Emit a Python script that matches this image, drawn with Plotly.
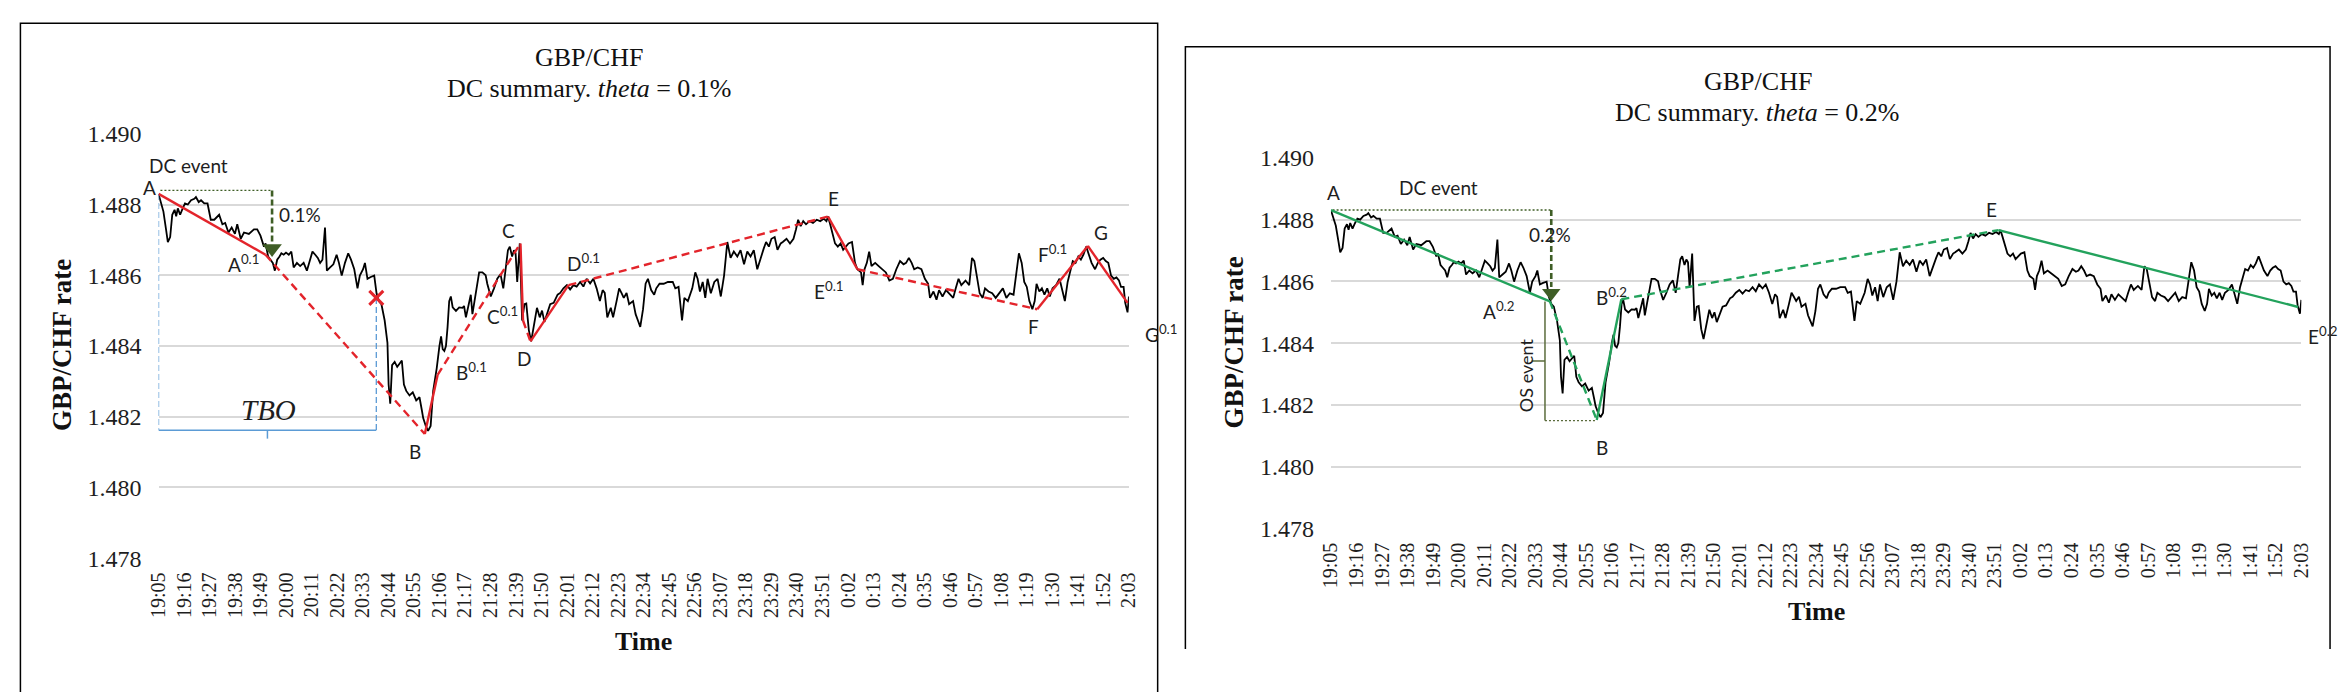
import plotly.graph_objects as go

# ---- TIME AXIS (category labels, one every 11 minutes) ---- #
tick_labels = ["19:05", "19:16", "19:27", "19:38", "19:49", "20:00", "20:11", "20:22",
               "20:33", "20:44", "20:55", "21:06", "21:17", "21:28", "21:39", "21:50",
               "22:01", "22:12", "22:23", "22:34", "22:45", "22:56", "23:07", "23:18",
               "23:29", "23:40", "23:51", "0:02", "0:13", "0:24", "0:35", "0:46",
               "0:57", "1:08", "1:19", "1:30", "1:41", "1:52", "2:03"]
step_min = 11

# ---- GBP/CHF RATE (minutes after 19:05) ---- #
minutes = [0.0, 1.1, 2.1, 3.3, 4.0, 5.0, 5.9, 6.9, 7.6, 8.3, 9.3, 10.4, 11.4, 12.6, 14.0, 15.4,
           16.1, 17.3, 18.3, 19.7, 21.1, 22.5, 24.0, 26.1, 27.5, 28.7, 30.1, 31.5, 32.9, 33.9,
           35.4, 36.8, 38.9, 41.1, 42.5, 43.9, 45.4, 46.1, 47.2, 48.2, 49.2, 50.1, 51.1, 52.1,
           52.9, 53.9, 54.9, 56.1, 57.2, 58.2, 59.6, 61.0, 62.5, 63.9, 65.3, 66.3, 67.5, 68.6,
           69.6, 70.6, 71.7, 72.5, 73.9, 75.3, 76.7, 77.7, 78.9, 80.3, 81.7, 82.9, 84.3, 85.7,
           86.7, 88.1, 88.9, 90.0, 91.4, 92.9, 93.9, 94.9, 96.0, 97.4, 98.6, 99.1, 99.8, 100.6,
           101.7, 102.8, 103.8, 104.8, 105.7, 106.7, 108.1, 109.5, 111.0, 112.4, 113.4, 114.0,
           115.1, 116.1, 117.2, 118.3, 119.8, 120.2, 121.0, 121.7, 122.4, 123.1, 123.8, 124.5,
           125.2, 125.9, 126.7, 128.1, 129.5, 130.9, 131.6, 132.4, 133.8, 134.5, 135.2, 136.6,
           138.1, 139.5, 140.9, 141.6, 143.1, 144.5, 145.9, 147.3, 148.5, 149.5, 150.5, 151.3,
           152.3, 153.1, 153.8, 154.5, 155.6, 156.6, 157.6, 158.4, 159.5, 160.5, 161.6, 163.0,
           164.2, 165.2, 166.2, 167.4, 168.7, 170.2, 171.9, 173.0, 174.4, 175.9, 177.3, 178.7,
           180.1, 181.6, 183.0, 184.4, 185.9, 187.3, 188.7, 190.1, 191.3, 192.2, 193.3, 194.8,
           195.8, 197.3, 198.4, 199.4, 200.4, 201.6, 202.7, 204.4, 205.5, 206.5, 207.5, 208.7,
           209.8, 210.8, 212.2, 213.5, 214.4, 215.8, 217.6, 219.4, 221.5, 222.6, 224.0, 225.5,
           226.5, 228.0, 228.9, 229.9, 231.2, 232.2, 233.2, 234.4, 235.5, 236.5, 237.9, 239.4,
           240.8, 242.2, 243.6, 245.0, 246.4, 247.8, 249.3, 250.7, 252.2, 253.6, 255.0, 256.4,
           257.9, 259.3, 260.7, 261.7, 262.9, 264.0, 265.4, 266.6, 268.0, 268.9, 270.5, 272.0,
           273.5, 274.6, 275.5, 276.6, 277.7, 278.9, 280.4, 281.9, 283.5, 285.0, 286.5, 287.7,
           288.4, 289.3, 290.3, 291.4, 292.6, 293.8, 294.9, 296.0, 297.2, 298.7, 300.0, 301.0,
           302.6, 303.3, 304.1, 305.1, 306.1, 307.1, 308.7, 310.2, 311.7, 313.3, 314.8, 316.3,
           317.8, 319.4, 320.9, 322.0, 323.2, 324.4, 325.5, 327.0, 328.6, 330.1, 331.5, 332.3,
           333.8, 335.1, 336.2, 337.7, 339.2, 340.8, 342.3, 343.4, 344.6, 345.8, 347.6, 349.2,
           350.4, 351.4, 352.5, 353.7, 355.0, 356.0, 357.5, 359.1, 360.6, 362.1, 363.7, 365.2,
           366.7, 368.3, 369.3, 370.6, 371.8, 372.9, 374.0, 375.1, 376.4, 377.4, 378.2, 379.4,
           380.5, 381.6, 382.8, 383.9, 385.1, 386.6, 388.1, 389.2, 390.4, 391.6, 392.7, 393.8,
           395.0, 396.2, 397.3, 398.4, 399.6, 400.8, 401.9, 403.4, 404.6, 405.7, 406.9, 408.0,
           409.1, 410.3, 411.5, 412.6, 413.7, 414.6, 415.7, 416.4, 417.4, 418.0]
rate = [1.48830, 1.48807, 1.48780, 1.48726, 1.48694, 1.48708, 1.48771, 1.48785, 1.48767, 1.48789,
        1.48771, 1.48789, 1.48803, 1.48800, 1.48812, 1.48816, 1.48821, 1.48807, 1.48812, 1.48803,
        1.48803, 1.48757, 1.48757, 1.48771, 1.48744, 1.48748, 1.48721, 1.48735, 1.48717, 1.48744,
        1.48703, 1.48721, 1.48717, 1.48730, 1.48730, 1.48712, 1.48681, 1.48690, 1.48653, 1.48644,
        1.48635, 1.48613, 1.48644, 1.48653, 1.48662, 1.48658, 1.48664, 1.48658, 1.48667, 1.48622,
        1.48635, 1.48626, 1.48635, 1.48613, 1.48644, 1.48667, 1.48658, 1.48649, 1.48635, 1.48644,
        1.48735, 1.48613, 1.48622, 1.48631, 1.48658, 1.48635, 1.48599, 1.48635, 1.48662, 1.48644,
        1.48617, 1.48563, 1.48599, 1.48617, 1.48635, 1.48590, 1.48595, 1.48599, 1.48549, 1.48527,
        1.48518, 1.48472, 1.48409, 1.48291, 1.48237, 1.48346, 1.48355, 1.48341, 1.48350, 1.48359,
        1.48291, 1.48273, 1.48260, 1.48269, 1.48246, 1.48255, 1.48219, 1.48196, 1.48174, 1.48160,
        1.48174, 1.48273, 1.48336, 1.48364, 1.48400, 1.48427, 1.48391, 1.48386, 1.48400, 1.48454,
        1.48527, 1.48540, 1.48509, 1.48499, 1.48509, 1.48508, 1.48513, 1.48481, 1.48527, 1.48545,
        1.48490, 1.48545, 1.48608, 1.48608, 1.48600, 1.48576, 1.48540, 1.48563, 1.48590, 1.48603,
        1.48563, 1.48617, 1.48671, 1.48681, 1.48653, 1.48671, 1.48662, 1.48581, 1.48690, 1.48472,
        1.48518, 1.48520, 1.48445, 1.48413, 1.48454, 1.48508, 1.48481, 1.48500, 1.48468, 1.48490,
        1.48518, 1.48522, 1.48545, 1.48550, 1.48563, 1.48572, 1.48560, 1.48572, 1.48568, 1.48581,
        1.48568, 1.48590, 1.48577, 1.48590, 1.48563, 1.48527, 1.48558, 1.48550, 1.48481, 1.48508,
        1.48481, 1.48527, 1.48563, 1.48550, 1.48536, 1.48550, 1.48518, 1.48527, 1.48490, 1.48472,
        1.48454, 1.48504, 1.48576, 1.48590, 1.48558, 1.48545, 1.48563, 1.48576, 1.48576, 1.48581,
        1.48581, 1.48563, 1.48567, 1.48472, 1.48536, 1.48527, 1.48545, 1.48563, 1.48608, 1.48590,
        1.48554, 1.48581, 1.48536, 1.48590, 1.48549, 1.48581, 1.48590, 1.48540, 1.48599, 1.48694,
        1.48649, 1.48667, 1.48653, 1.48671, 1.48631, 1.48667, 1.48653, 1.48671, 1.48617, 1.48649,
        1.48676, 1.48694, 1.48681, 1.48703, 1.48708, 1.48672, 1.48690, 1.48694, 1.48703, 1.48690,
        1.48703, 1.48730, 1.48757, 1.48739, 1.48753, 1.48744, 1.48753, 1.48748, 1.48757, 1.48753,
        1.48760, 1.48753, 1.48766, 1.48744, 1.48717, 1.48690, 1.48681, 1.48690, 1.48672, 1.48681,
        1.48690, 1.48694, 1.48635, 1.48617, 1.48608, 1.48572, 1.48617, 1.48635, 1.48667, 1.48626,
        1.48635, 1.48626, 1.48617, 1.48608, 1.48585, 1.48590, 1.48617, 1.48640, 1.48631, 1.48635,
        1.48649, 1.48635, 1.48617, 1.48622, 1.48617, 1.48590, 1.48576, 1.48536, 1.48554, 1.48531,
        1.48558, 1.48540, 1.48558, 1.48545, 1.48536, 1.48563, 1.48590, 1.48572, 1.48585, 1.48572,
        1.48649, 1.48640, 1.48599, 1.48549, 1.48536, 1.48563, 1.48554, 1.48549, 1.48536, 1.48549,
        1.48563, 1.48536, 1.48549, 1.48545, 1.48599, 1.48662, 1.48635, 1.48581, 1.48567, 1.48527,
        1.48504, 1.48527, 1.48576, 1.48554, 1.48563, 1.48545, 1.48563, 1.48540, 1.48563, 1.48572,
        1.48590, 1.48563, 1.48527, 1.48581, 1.48608, 1.48640, 1.48635, 1.48653, 1.48644, 1.48658,
        1.48681, 1.48653, 1.48635, 1.48617, 1.48635, 1.48644, 1.48649, 1.48640, 1.48635, 1.48599,
        1.48590, 1.48594, 1.48585, 1.48567, 1.48567, 1.48522, 1.48495, 1.48540]

# ---- DC SUMMARY, theta = 0.1% (A, A0.1, B, B0.1, C, C0.1, D, D0.1, E, E0.1, F, G, G0.1) ---- #
dc1_t = [0.0, 46.1, 114.7, 120.2, 155.9, 157.0, 160.2, 176.6, 288.4, 301.0, 378.5, 400.3, 417.4]
dc1_p = [1.48830, 1.48658, 1.48151, 1.48318, 1.48690, 1.48472, 1.48413, 1.48572, 1.48766,
         1.48617, 1.48504, 1.48683, 1.48522]
dc1_style = ["solid", "dash", "solid", "dash", "solid", "dash", "solid", "dash", "solid", "dash",
             "solid", "solid"]

# ---- DC SUMMARY, theta = 0.2% (A, A0.2, B, B0.2, E, E0.2) ---- #
dc2_t = [0.0, 94.3, 114.5, 125.1, 287.6, 416.6]
dc2_p = [1.48831, 1.48535, 1.48151, 1.48542, 1.48766, 1.48517]
dc2_style = ["solid", "dash", "solid", "dash", "solid"]

# ---- EVENT MARKS ---- #
dc1_event_top = 1.48840      # dotted level over A (theta 0.1%)
dc1_arrow_t = 48.9
dc1_arrow_tip = 1.48658
tbo_end_t = 93.8             # red cross, end of TBO
tbo_end_p = 1.48536
tbo_level = 1.48162

dc2_event_top = 1.48831
dc2_arrow_t = 94.9
dc2_arrow_tip = 1.48540
os_t = 92.2
os_top = 1.48535
os_bottom = 1.48149

# ---- COLOURS ---- #
RED = "#e3242b"
GREEN = "#23a25c"
DARK_GREEN = "#3f5e26"
OLIVE = "#5a6b3b"
BLUE = "#5b9bd5"
SERIF = "Liberation Serif"
SANS = "Lato"

W, H = 2346, 692
fig = go.Figure()


def line(xs, ys, ax, color, width, dash="solid"):
    fig.add_trace(go.Scatter(x=xs, y=ys, mode="lines", xaxis=ax[0], yaxis=ax[1],
                             line=dict(color=color, width=width, dash=dash),
                             showlegend=False, hoverinfo="skip"))


for ax in [("x", "y"), ("x2", "y2")]:
    line(minutes, rate, ax, "black", 1.8)

# ---- LEFT PANEL MARKS ---- #
L = ("x", "y")
line([0, 0], [dc1_p[0], tbo_level], L, BLUE, 1.3, "6px,3px")
line([tbo_end_t, tbo_end_t], [tbo_end_p, tbo_level], L, BLUE, 1.3, "6px,3px")
line([0, tbo_end_t], [tbo_level, tbo_level], L, BLUE, 1.5)
line([tbo_end_t / 2, tbo_end_t / 2], [tbo_level, tbo_level - 0.00024], L, BLUE, 1.5)
line([0.8, dc1_arrow_t], [dc1_event_top, dc1_event_top], L, DARK_GREEN, 1.4, "2px,2px")
line([dc1_arrow_t, dc1_arrow_t], [dc1_event_top, dc1_arrow_tip + 0.00036], L, DARK_GREEN, 2.6, "6px,3px")
fig.add_trace(go.Scatter(x=[dc1_arrow_t], y=[dc1_arrow_tip + 0.00018], mode="markers",
                         marker=dict(symbol="triangle-down", size=17, color=DARK_GREEN),
                         showlegend=False, hoverinfo="skip"))
for i, st in enumerate(dc1_style):
    line(dc1_t[i:i + 2], dc1_p[i:i + 2], L, RED, 2.4, "solid" if st == "solid" else "8px,5px")
fig.add_trace(go.Scatter(x=[tbo_end_t], y=[tbo_end_p], mode="markers",
                         marker=dict(symbol="x-thin", size=14, line=dict(color=RED, width=3)),
                         showlegend=False, hoverinfo="skip"))

# ---- RIGHT PANEL MARKS ---- #
R = ("x2", "y2")
line([0.7, dc2_arrow_t], [dc2_event_top, dc2_event_top], R, DARK_GREEN, 1.4, "2px,2px")
line([dc2_arrow_t, dc2_arrow_t], [dc2_event_top, dc2_arrow_tip + 0.00042], R, DARK_GREEN, 2.6, "6px,3px")
fig.add_trace(go.Scatter(x=[dc2_arrow_t], y=[dc2_arrow_tip + 0.00022], mode="markers", xaxis="x2", yaxis="y2",
                         marker=dict(symbol="triangle-down", size=16, color=DARK_GREEN),
                         showlegend=False, hoverinfo="skip"))
line([os_t, os_t], [os_top, os_bottom], R, OLIVE, 1.5)
line([os_t - 5.8, os_t], [(os_top + os_bottom) / 2] * 2, R, OLIVE, 1.5)
line([os_t, dc2_t[2]], [os_bottom, os_bottom], R, OLIVE, 1.4, "2px,2px")
for i, st in enumerate(dc2_style):
    line(dc2_t[i:i + 2], dc2_p[i:i + 2], R, GREEN, 2.4, "solid" if st == "solid" else "8px,5px")

# ---- LABELS ---- #
label_font = dict(family=SANS, size=19, color="#1e1e1e")
point_labels = [
    ("x", "y", 13.0, 1.48911, "DC event"),
    ("x", "y", 61.0, 1.48771, "0.1%"),
    ("x", "y", 36.4, 1.48633, "A<sup>0.1</sup>"),
    ("x", "y", 110.4, 1.48101, "B"),
    ("x", "y", 134.8, 1.48328, "B<sup>0.1</sup>"),
    ("x", "y", 150.9, 1.48726, "C"),
    ("x", "y", 148.2, 1.48486, "C<sup>0.1</sup>"),
    ("x", "y", 157.3, 1.48364, "D"),
    ("x", "y", 183.0, 1.48635, "D<sup>0.1</sup>"),
    ("x", "y", 290.8, 1.48816, "E"),
    ("x", "y", 288.7, 1.48558, "E<sup>0.1</sup>"),
    ("x", "y", 377.0, 1.48454, "F"),
    ("x", "y", 385.1, 1.48662, "F<sup>0.1</sup>"),
    ("x", "y", 406.0, 1.48721, "G"),
    ("x2", "y2", 1.0, 1.48888, "A"),
    ("x2", "y2", 46.4, 1.48904, "DC event"),
    ("x2", "y2", 94.3, 1.48753, "0.2%"),
    ("x2", "y2", 72.3, 1.48504, "A<sup>0.2</sup>"),
    ("x2", "y2", 116.9, 1.48063, "B"),
    ("x2", "y2", 120.8, 1.48551, "B<sup>0.2</sup>"),
    ("x2", "y2", 284.6, 1.48834, "E"),
]
for xr, yr, tx, ty, txt in point_labels:
    fig.add_annotation(x=tx, y=ty, xref=xr, yref=yr, text=txt, showarrow=False, font=label_font,
                       xanchor="center", yanchor="middle")

# labels sitting just outside the plotted time range
fig.add_annotation(x=0, y=1.48848, xref="x", yref="y", text="A", showarrow=False,
                   xanchor="right", yanchor="middle", xshift=-1, font=label_font)
fig.add_annotation(x=418, y=1.48436, xref="x", yref="y", text="G<sup>0.1</sup>", showarrow=False,
                   xanchor="left", yanchor="middle", xshift=14, font=label_font)
fig.add_annotation(x=418, y=1.48426, xref="x2", yref="y2", text="E<sup>0.2</sup>", showarrow=False,
                   xanchor="left", yanchor="middle", xshift=5, font=label_font)
fig.add_annotation(x=84, y=1.48296, xref="x2", yref="y2", text="OS event", textangle=-90,
                   xanchor="center", yanchor="middle",
                   showarrow=False, font=dict(family=SANS, size=18, color="#1e1e1e"))
fig.add_annotation(x=tbo_end_t / 2 + 0.5, y=1.48219, xref="x", yref="y", text="<i>TBO</i>",
                   xanchor="center", yanchor="middle",
                   showarrow=False, font=dict(family=SERIF, size=29, color="#1e1e1e"))

# ---- TITLES ---- #
title_font = dict(family=SERIF, size=26, color="#111")
for cx, y1, y2, th in [(583, 47, 79, "0.1%"), (1763, 72, 104, "0.2%")]:
    fig.add_annotation(x=cx / W, y=1 - y1 / H, xref="paper", yref="paper", text="GBP/CHF",
                       xanchor="center", yanchor="middle", showarrow=False, font=title_font)
    fig.add_annotation(x=cx / W, y=1 - y2 / H, xref="paper", yref="paper",
                       text=f"DC summary. <i>theta</i> = {th}", xanchor="center", yanchor="middle",
                       showarrow=False, font=title_font)

axis_title_font = dict(family=SERIF, size=27, color="#111")
for cx, cy in [(50, 346), (1234, 343)]:
    fig.add_annotation(x=cx / W, y=1 - cy / H, xref="paper", yref="paper", text="<b>GBP/CHF rate</b>",
                       textangle=-90, xanchor="center", yanchor="middle", showarrow=False,
                       font=axis_title_font)
for cx, cy in [(638, 653), (1822, 622)]:
    fig.add_annotation(x=cx / W, y=1 - cy / H, xref="paper", yref="paper", text="<b>Time</b>",
                       xanchor="center", yanchor="middle", showarrow=False,
                       font=dict(family=SERIF, size=26, color="#111"))

# ---- PANEL FRAMES ---- #
fig.add_shape(type="path", xref="paper", yref="paper",
              path=f"M {8.5 / W},-0.1 L {8.5 / W},{1 - 11.7 / H} L {1157 / W},{1 - 11.7 / H} L {1157 / W},-0.1",
              line=dict(color="black", width=1.5))
fig.add_shape(type="path", xref="paper", yref="paper",
              path=f"M {1185 / W},{1 - 661 / H} L {1185 / W},{1 - 36 / H} L {2341 / W},{1 - 36 / H} L {2341 / W},{1 - 661 / H}",
              line=dict(color="black", width=1.5))

# ---- AXES ---- #
tickvals = [i * step_min for i in range(len(tick_labels))]
xcommon = dict(range=[0, tickvals[-1]], tickvals=tickvals, ticktext=tick_labels, tickangle=-90,
               showgrid=False, zeroline=False, showline=False, ticks="", ticklabelstandoff=9,
               tickfont=dict(family=SERIF, size=20, color="#1e1e1e"))
ycommon = dict(range=[1.47799, 1.49001], tick0=1.478, dtick=0.002, tickformat=".3f",
               showgrid=True, gridcolor="#d9d9d9", gridwidth=2, zeroline=False, showline=False,
               ticks="", ticklabelstandoff=16, tickfont=dict(family=SERIF, size=24, color="#1e1e1e"))

fig.update_layout(
    width=W, height=H, autosize=False,
    margin=dict(l=0, r=0, t=0, b=0),
    paper_bgcolor="white", plot_bgcolor="white",
    showlegend=False,
    xaxis=dict(domain=[148 / W, 1128 / W], anchor="y", **xcommon),
    yaxis=dict(domain=[1 - 567 / H, 1 - 126 / H], anchor="x", **ycommon),
    xaxis2=dict(domain=[1332 / W, 2312 / W], anchor="y2", **xcommon),
    yaxis2=dict(domain=[1 - 536 / H, 1 - 151 / H], anchor="x2", **ycommon),
)

fig.write_html("out.html", config={"displayModeBar": False},
               post_script="document.body.style.margin = '0';")
